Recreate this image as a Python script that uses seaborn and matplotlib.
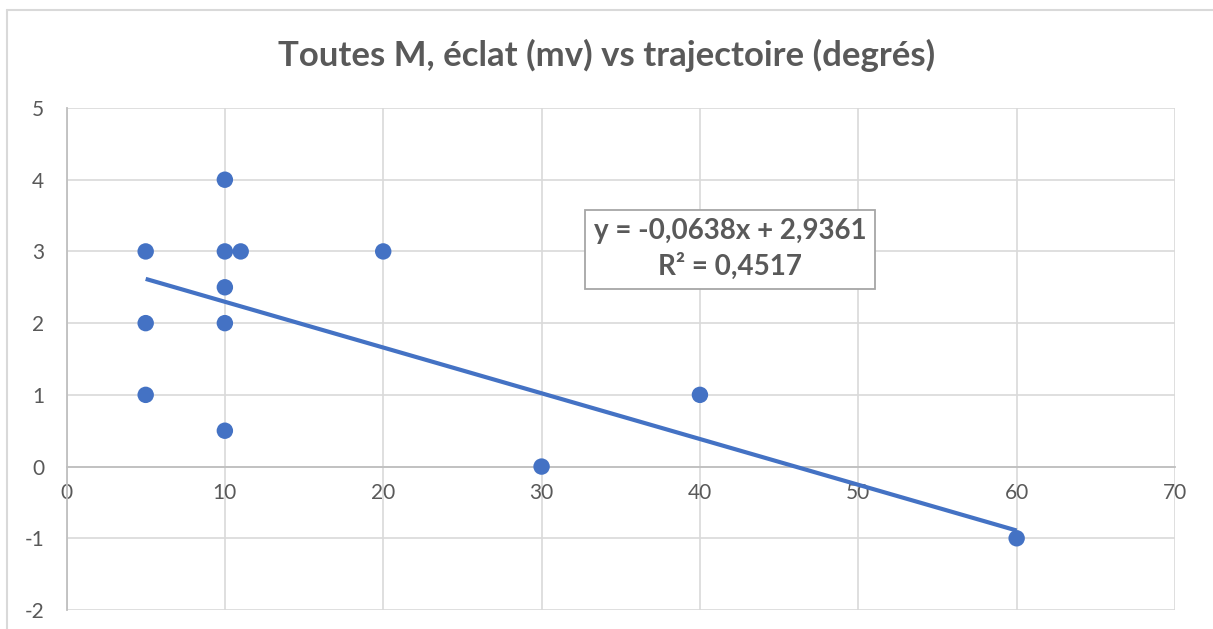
import numpy as np
import pandas as pd
import matplotlib.pyplot as plt
from matplotlib.lines import Line2D
import seaborn as sns

# data
trajectoire = [5, 5, 5, 10, 10, 11, 10, 10, 10, 20, 30, 40, 60]
eclat = [3, 2, 1, 4, 3, 3, 2.5, 2, 0.5, 3, 0, 1, -1]
slope = -0.0638
intercept = 2.9361
r2 = 0.4517
x_ticks = [0, 10, 20, 30, 40, 50, 60, 70]
y_ticks = [-2, -1, 0, 1, 2, 3, 4, 5]

df = pd.DataFrame({"trajectoire": trajectoire, "eclat": eclat})

sns.set_style("white")
plt.rcParams["font.family"] = ["Lato", "DejaVu Sans"]
plt.rcParams["axes.unicode_minus"] = False

BLUE = "#4472C4"
TEXT = "#595959"
GRID = "#D9D9D9"
AXIS = "#BFBFBF"

fig = plt.figure(figsize=(12.13, 6.29), dpi=100)
ax = fig.add_axes([66.5 / 1213, 1 - 610 / 629, (1175 - 66.5) / 1213, (610 - 108) / 629])

# trendline over the data range
xs = np.array([min(trajectoire), max(trajectoire)])
ax.plot(xs, slope * xs + intercept, color=BLUE, lw=3.0, solid_capstyle="butt", zorder=3)

sns.scatterplot(data=df, x="trajectoire", y="eclat", color=BLUE, s=140,
                edgecolor="none", ax=ax, zorder=4)

ax.set_xlim(0, 70)
ax.set_ylim(-2, 5)
ax.set_xticks(x_ticks)
ax.set_yticks(y_ticks)
ax.grid(True, color=GRID, lw=1.2)
ax.set_axisbelow(True)
ax.set_xlabel("")
ax.set_ylabel("")

for s in ["top", "right"]:
    ax.spines[s].set_visible(False)
ax.spines["left"].set_color(AXIS)
ax.spines["left"].set_linewidth(1.3)
ax.spines["bottom"].set_position(("data", 0))
ax.spines["bottom"].set_color(AXIS)
ax.spines["bottom"].set_linewidth(1.3)

ax.tick_params(axis="both", length=0, labelsize=15, labelcolor=TEXT)
ax.tick_params(axis="y", pad=16)
ax.tick_params(axis="x", pad=12)

ax.text(41.9, 3.03,
        f"y = {slope:.4f}x + {intercept:.4f}\nR² = {r2:.4f}".replace(".", ","),
        ha="center", va="center", fontsize=20, fontweight="bold", color=TEXT,
        linespacing=1.4,
        bbox=dict(boxstyle="square,pad=0.3", fc="white", ec="#A6A6A6", lw=1.3),
        zorder=5)

fig.suptitle("Toutes M, éclat (mv) vs trajectoire (degrés)", y=1 - 55 / 629, va="center",
             fontsize=25, fontweight="bold", color=TEXT)

# chart frame
fig.add_artist(Line2D([7 / 1213, 7 / 1213], [0, 1 - 10 / 629], transform=fig.transFigure,
                      color=GRID, lw=1.5))
fig.add_artist(Line2D([7 / 1213, 1], [1 - 10 / 629, 1 - 10 / 629], transform=fig.transFigure,
                      color=GRID, lw=1.5))

fig.savefig("out.png", dpi=100, facecolor="white")
